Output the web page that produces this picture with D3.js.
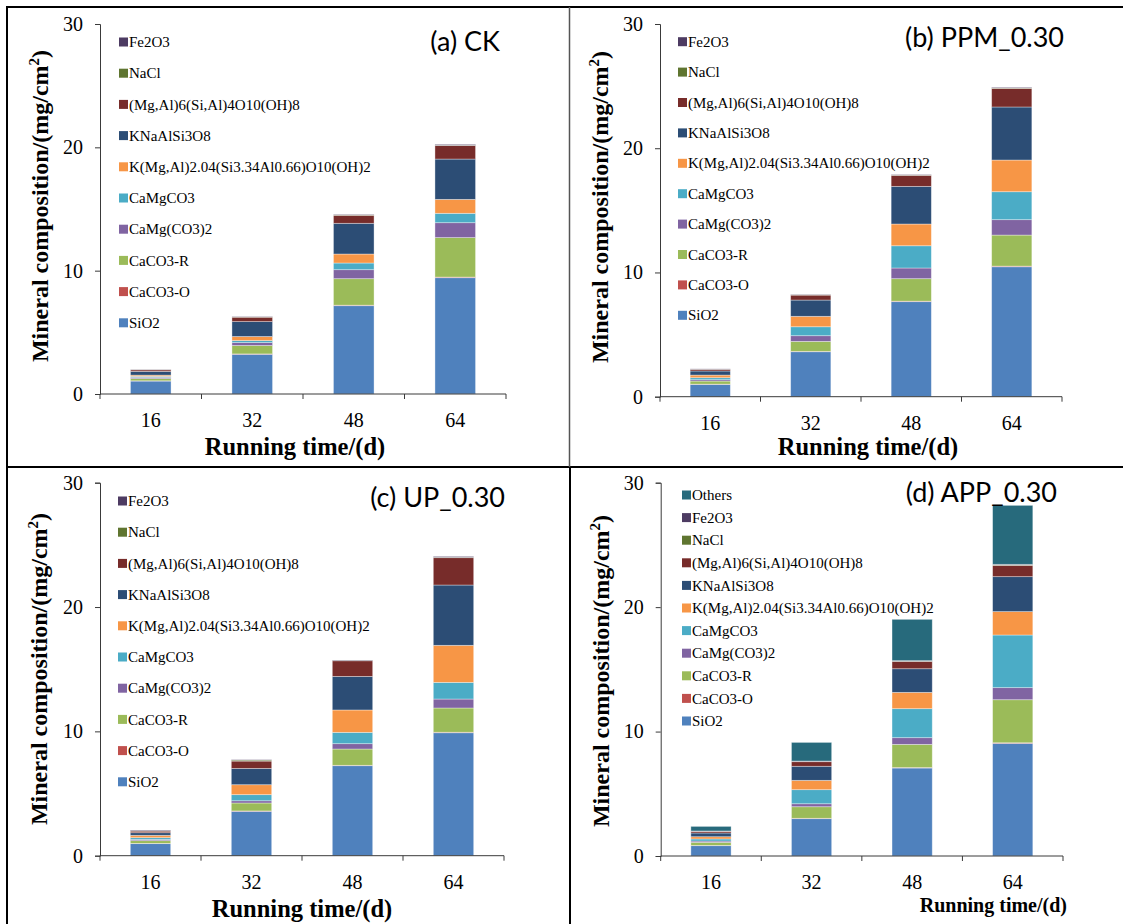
<!DOCTYPE html>
<html>
<head>
<meta charset="utf-8">
<script src="https://cdn.jsdelivr.net/npm/d3@7/dist/d3.min.js"></script>
<style>
  html, body { margin: 0; padding: 0; background: #fff; }
  svg { display: block; }
</style>
</head>
<body>
<svg id="fig" width="1123" height="924"></svg>
<script>
// Running time (days) on the x axis
const days = ["16", "32", "48", "64"];
// y axis ticks, mg/cm2
const yTicks = [0, 10, 20, 30];

// Stack order, bottom to top
const mineralNames = [
  "SiO2", "CaCO3-O", "CaCO3-R", "CaMg(CO3)2", "CaMgCO3",
  "K(Mg,Al)2.04(Si3.34Al0.66)O10(OH)2", "KNaAlSi3O8",
  "(Mg,Al)6(Si,Al)4O10(OH)8", "NaCl", "Fe2O3", "Others"
];
const mineralColors = [
  "#4F81BD", "#C0504D", "#9BBB59", "#8064A2", "#4BACC6",
  "#F79646", "#2C4D75", "#772C2A", "#5F7530", "#4D3B62", "#276A7C"
];

const panelTitles = ["(a) CK", "(b) PPM_0.30", "(c) UP_0.30", "(d) APP_0.30"];

// One row per mineral (stack order), one value per running time
const ckValues = [
  [1.05, 3.22, 7.16, 9.43],
  [0.02, 0.03, 0.04, 0.05],
  [0.18, 0.68, 2.15, 3.20],
  [0.10, 0.24, 0.73, 1.21],
  [0.08, 0.16, 0.54, 0.76],
  [0.10, 0.33, 0.73, 1.13],
  [0.30, 1.21, 2.49, 3.27],
  [0.13, 0.36, 0.65, 1.09],
  [0.01, 0.02, 0.03, 0.03],
  [0.02, 0.03, 0.04, 0.07]
];
const ppmValues = [
  [0.99, 3.62, 7.65, 10.46],
  [0.02, 0.03, 0.04, 0.05],
  [0.25, 0.80, 1.81, 2.50],
  [0.11, 0.46, 0.86, 1.24],
  [0.16, 0.72, 1.79, 2.25],
  [0.21, 0.84, 1.75, 2.55],
  [0.33, 1.31, 3.03, 4.27],
  [0.13, 0.40, 0.89, 1.50],
  [0.01, 0.02, 0.02, 0.03],
  [0.03, 0.03, 0.04, 0.05]
];
const upValues = [
  [0.97, 3.57, 7.24, 9.89],
  [0.02, 0.03, 0.03, 0.04],
  [0.22, 0.64, 1.31, 1.95],
  [0.10, 0.18, 0.43, 0.72],
  [0.14, 0.49, 0.91, 1.34],
  [0.19, 0.80, 1.80, 2.98],
  [0.21, 1.31, 2.70, 4.85],
  [0.13, 0.59, 1.26, 2.20],
  [0.02, 0.08, 0.02, 0.03],
  [0.06, 0.03, 0.04, 0.07]
];
const appValues = [
  [0.83, 3.00, 7.07, 9.05],
  [0.02, 0.03, 0.04, 0.05],
  [0.25, 0.93, 1.86, 3.46],
  [0.10, 0.24, 0.54, 0.97],
  [0.17, 1.13, 2.33, 4.23],
  [0.18, 0.75, 1.31, 1.88],
  [0.30, 1.13, 1.90, 2.81],
  [0.13, 0.37, 0.59, 0.91],
  [0.01, 0.02, 0.02, 0.03],
  [0.02, 0.03, 0.04, 0.05],
  [0.37, 1.50, 3.32, 4.74]
];
const panelValues = [ckValues, ppmValues, upValues, appValues];

// Placement of each panel on the page
const layout = [
  { x0: 100, x1: 506, yTop: 24, yBot: 394,
    legX: 119, legY: 42, legStep: 31.2,
    titleX: 500, titleY: 51,
    yLabX: 48, yLabY: 206,
    xLabX: 295, xLabY: 455, xLabSize: 24.5, xLabAnchor: "middle" },
  { x0: 660, x1: 1062, yTop: 24, yBot: 396.7,
    legX: 678, legY: 41.7, legStep: 30.4,
    titleX: 1064, titleY: 47,
    yLabX: 608, yLabY: 207,
    xLabX: 868, xLabY: 455, xLabSize: 24.5, xLabAnchor: "middle" },
  { x0: 100, x1: 504, yTop: 482.7, yBot: 855.7,
    legX: 118, legY: 501, legStep: 31.2,
    titleX: 505, titleY: 507,
    yLabX: 47, yLabY: 669,
    xLabX: 302, xLabY: 917, xLabSize: 24.5, xLabAnchor: "middle" },
  { x0: 660.7, x1: 1063, yTop: 482.7, yBot: 856,
    legX: 682, legY: 495, legStep: 22.6,
    titleX: 1057, titleY: 502,
    yLabX: 609, yLabY: 671,
    xLabX: 1067, xLabY: 912, xLabSize: 20, xLabAnchor: "end" }
];

const svg = d3.select("#fig");
const serif = "'Liberation Serif', 'Times New Roman', serif";
const sans = "Lato, 'Open Sans', sans-serif";
const axisColor = "#3a3a3a";

// Frame lines separating the four panels
const frame = svg.append("g");
frame.append("line").attr("x1", 6).attr("x2", 1123).attr("y1", 7).attr("y2", 7)
  .attr("stroke", "#000").attr("stroke-width", 2);
frame.append("line").attr("x1", 7).attr("x2", 7).attr("y1", 6).attr("y2", 924)
  .attr("stroke", "#000").attr("stroke-width", 2);
frame.append("line").attr("x1", 6).attr("x2", 1123).attr("y1", 467).attr("y2", 467)
  .attr("stroke", "#000").attr("stroke-width", 2);
frame.append("line").attr("x1", 569.5).attr("x2", 569.5).attr("y1", 7).attr("y2", 467)
  .attr("stroke", "#555").attr("stroke-width", 1.5);
frame.append("line").attr("x1", 570).attr("x2", 570).attr("y1", 467).attr("y2", 924)
  .attr("stroke", "#000").attr("stroke-width", 2);

panelValues.forEach((values, p) => {
  const L = layout[p];
  const names = mineralNames.slice(0, values.length);
  const colors = mineralColors.slice(0, values.length);
  const g = svg.append("g");

  const x = d3.scaleBand().domain(days).range([L.x0, L.x1])
    .paddingInner(0.6).paddingOuter(0.3);
  const y = d3.scaleLinear().domain([0, 30]).range([L.yBot, L.yTop]);

  const rows = days.map((d, i) => {
    const r = { day: d };
    names.forEach((n, k) => { r[n] = values[k][i]; });
    return r;
  });
  const series = d3.stack().keys(names)(rows);

  // stacked bars
  g.append("g").selectAll("g").data(series).join("g")
    .attr("fill", (s, k) => colors[k])
    .selectAll("rect").data(s => s).join("rect")
    .attr("x", d => x(d.data.day))
    .attr("width", x.bandwidth())
    .attr("y", d => y(d[1]))
    .attr("height", d => Math.max(0, y(d[0]) - y(d[1])))
    .attr("stroke", "rgba(255,255,255,0.45)")
    .attr("stroke-width", 0.8);

  // y axis
  const yAxis = g.append("g").attr("transform", `translate(${L.x0},0)`)
    .call(d3.axisLeft(y).tickValues(yTicks).tickSize(5).tickPadding(12).tickFormat(d3.format("d")));
  yAxis.select(".domain").attr("stroke", axisColor);
  yAxis.selectAll(".tick line").attr("stroke", axisColor);
  yAxis.selectAll(".tick text").attr("font-family", serif).attr("font-size", 20)
    .attr("fill", "#000");

  // x axis: ticks sit on the category boundaries
  const xAxisG = g.append("g").attr("transform", `translate(0,${L.yBot})`);
  xAxisG.append("line").attr("x1", L.x0).attr("x2", L.x1)
    .attr("stroke", axisColor).attr("stroke-width", 1);
  const step = x.step();
  const bounds = d3.range(days.length + 1).map(i => L.x0 + i * step);
  xAxisG.selectAll("line.tk").data(bounds).join("line").attr("class", "tk")
    .attr("x1", d => d).attr("x2", d => d).attr("y1", 0).attr("y2", 5)
    .attr("stroke", axisColor);
  xAxisG.selectAll("text").data(days).join("text")
    .attr("x", d => x(d) + x.bandwidth() / 2)
    .attr("y", 33)
    .attr("text-anchor", "middle")
    .attr("font-family", serif).attr("font-size", 20).attr("fill", "#000")
    .text(d => d);

  // axis titles
  g.append("text")
    .attr("x", L.xLabX).attr("y", L.xLabY)
    .attr("text-anchor", L.xLabAnchor)
    .attr("font-family", serif).attr("font-weight", "bold")
    .attr("font-size", L.xLabSize)
    .text("Running time/(d)");
  const yl = g.append("text")
    .attr("transform", `translate(${L.yLabX},${L.yLabY}) rotate(-90)`)
    .attr("text-anchor", "middle")
    .attr("font-family", serif).attr("font-weight", "bold")
    .attr("font-size", 24);
  yl.append("tspan").text("Mineral composition/(mg/cm");
  yl.append("tspan").attr("dy", -9).attr("font-size", 15).text("2");
  yl.append("tspan").attr("dy", 9).text(")");

  // panel title
  g.append("text")
    .attr("x", L.titleX).attr("y", L.titleY)
    .attr("text-anchor", "end")
    .attr("font-family", sans).attr("font-size", 27).attr("fill", "#000")
    .text(panelTitles[p]);

  // legend, top entry is the last stacked mineral
  const legendItems = names.map((n, k) => ({ name: n, color: colors[k] })).reverse();
  const leg = g.append("g").selectAll("g").data(legendItems).join("g")
    .attr("transform", (d, i) => `translate(${L.legX},${L.legY + i * L.legStep})`);
  leg.append("rect").attr("x", 0).attr("y", -4.5).attr("width", 9).attr("height", 9)
    .attr("fill", d => d.color);
  leg.append("text").attr("x", 10).attr("y", 0).attr("dy", "0.34em")
    .attr("font-family", serif).attr("font-size", 15).attr("fill", "#000")
    .text(d => d.name);
});
</script>
</body>
</html>
